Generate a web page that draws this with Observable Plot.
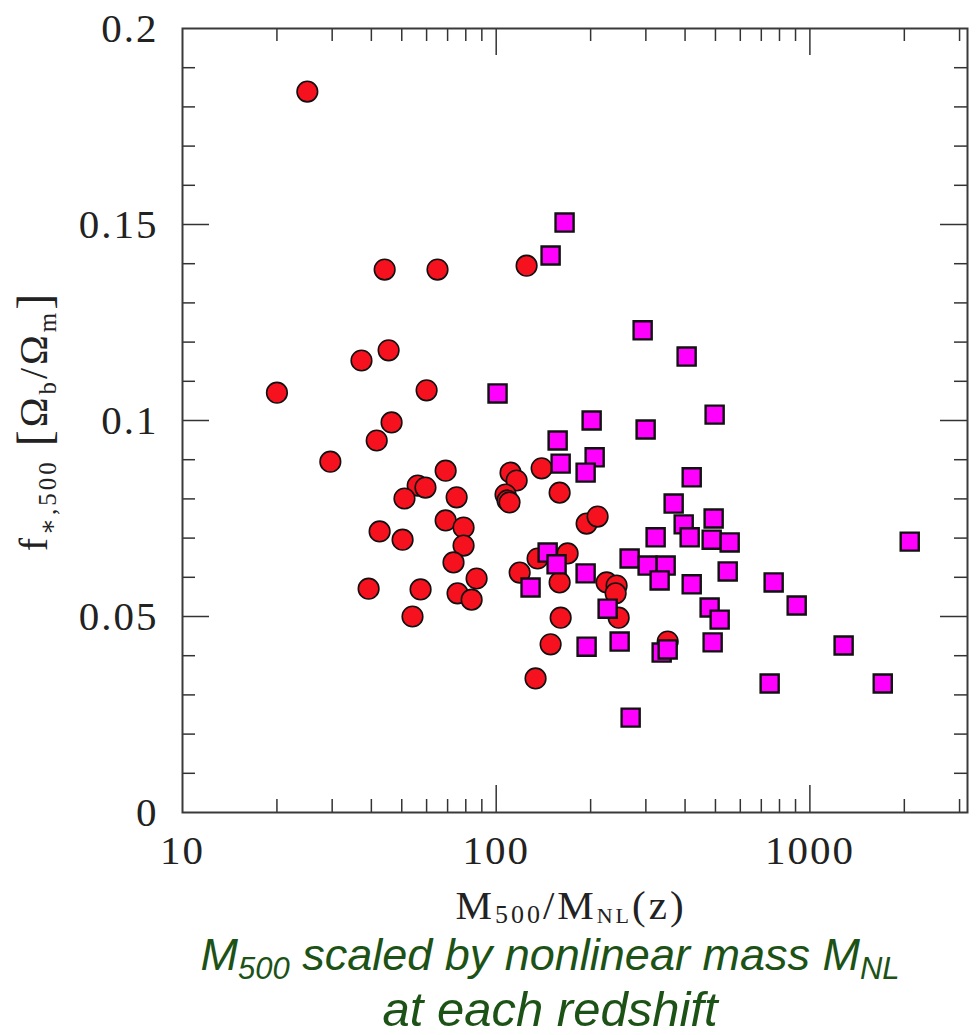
<!DOCTYPE html>
<html>
<head>
<meta charset="utf-8">
<script src="https://cdn.jsdelivr.net/npm/d3@7"></script>
<script src="https://cdn.jsdelivr.net/npm/@observablehq/plot@0.6"></script>
<style>
  body { margin: 0; background: #fff; }
  #wrap { width: 980px; }
  g[aria-label="x-axis tick label"], g[aria-label="y-axis tick label"] { letter-spacing: 2px; }
  #caption {
    font-family: "Liberation Sans", Arial, sans-serif;
    font-style: italic;
    color: #1d5216;
    text-align: center;
    padding-left: 120px;
    width: 860px;
    margin-top: -15px;
  }
  #caption .l1 { font-size: 45px; line-height: 40px; }
  #caption .l2 { font-size: 49px; line-height: 50px; padding-top: 4px; }
  #caption .sb { font-size: 31px; position: relative; top: 9px; }
</style>
</head>
<body>
<div id="wrap"></div>
<div id="caption">
  <div class="l1">M<span class="sb">500</span> scaled by nonlinear mass M<span class="sb">NL</span></div>
  <div class="l2">at each redshift</div>
</div>
<script>
// ---- data ----
const circleX = [25.0, 44.1, 65.0, 125.0, 37.2, 45.4, 20.0, 60.0, 46.4, 41.6,
  29.6, 69.0, 56.2, 59.5, 51.0, 74.8, 42.5, 50.3, 69.0, 78.7,
  78.7, 73.1, 86.6, 75.3, 83.5, 57.4, 39.2, 54.1, 111.1, 116.2,
  107.1, 108.7, 110.3, 139.6, 159.3, 194.2, 210.5, 135.5, 168.9, 118.8,
  159.3, 224.9, 242.0, 240.3, 245.7, 160.5, 149.1, 133.5, 352.1];
const circleY = [0.1839, 0.1385, 0.1385, 0.1395, 0.1153, 0.1179, 0.1071, 0.1077, 0.0995, 0.0949,
  0.0895, 0.0872, 0.0834, 0.0829, 0.0801, 0.0804, 0.0717, 0.0696, 0.0745, 0.0727,
  0.0681, 0.0638, 0.0597, 0.0559, 0.0543, 0.0569, 0.0571, 0.0500, 0.0867, 0.0847,
  0.0811, 0.0796, 0.0791, 0.0878, 0.0816, 0.0737, 0.0755, 0.0648, 0.0661, 0.0612,
  0.0587, 0.0587, 0.0579, 0.0559, 0.0497, 0.0497, 0.0429, 0.0342, 0.0436];

const squareX = [165.2, 149.1, 293.0, 404.7, 101.0, 201.5, 299.5, 497.0, 157.0, 160.5,
  206.0, 192.8, 420.0, 367.9, 396.0, 493.4, 322.3, 413.8, 486.3, 555.0,
  2081, 145.9, 155.8, 128.7, 192.8, 266.3, 303.9, 346.9, 331.9, 547.0,
  420.0, 766.5, 479.1, 515.7, 907.7, 226.6, 194.2, 247.5, 336.9, 352.1,
  489.8, 1281, 744.3, 1707, 268.3];
const squareY = [0.1505, 0.1421, 0.1230, 0.1163, 0.1069, 0.1000, 0.0977, 0.1015, 0.0949, 0.0890,
  0.0906, 0.0867, 0.0855, 0.0788, 0.0735, 0.0750, 0.0702, 0.0702, 0.0696, 0.0689,
  0.0691, 0.0663, 0.0633, 0.0574, 0.0610, 0.0648, 0.0630, 0.0630, 0.0592, 0.0615,
  0.0582, 0.0587, 0.0523, 0.0492, 0.0528, 0.0520, 0.0423, 0.0436, 0.0408, 0.0416,
  0.0434, 0.0426, 0.0329, 0.0329, 0.0242];

const xDomain = [10, 3180];
const yDomain = [0, 0.2];
const xTickLabels = [10, 100, 1000];
const xMajorTicks = [100, 1000];
const xMinorTicks = [20, 30, 40, 50, 60, 70, 80, 90, 200, 300, 400, 500, 600, 700, 800, 900, 2000, 3000];
const yTickValues = [0, 0.05, 0.1, 0.15, 0.2];
const yTickLabels = ["0", "0.05", "0.1", "0.15", "0.2"];
const yMajorTicks = [0.05, 0.1, 0.15];
const yMinorTicks = [0.01, 0.02, 0.03, 0.04, 0.06, 0.07, 0.08, 0.09, 0.11, 0.12, 0.13, 0.14, 0.16, 0.17, 0.18, 0.19];

// ---- layout ----
const W = 980, H = 950;
const mL = 182, mR = 13, mT = 28, mB = 138;
const innerW = W - mL - mR, innerH = H - mT - mB;
const minorLen = 13, majorLen = 27;
const tickColor = "#333", frameColor = "#3a3a3a";
const serif = "'Liberation Serif', 'DejaVu Serif', serif";

const circles = circleX.map((x, i) => ({x, y: circleY[i]}));
const squares = squareX.map((x, i) => ({x, y: squareY[i]}));

const chart = Plot.plot({
  width: W, height: H,
  marginLeft: mL, marginRight: mR, marginTop: mT, marginBottom: mB,
  x: {type: "log", domain: xDomain},
  y: {domain: yDomain},
  style: {fontFamily: serif, background: "#fff", color: "#222"},
  marks: [
    // bottom ticks
    Plot.ruleX(xMinorTicks, {x: d => d, insetTop: innerH - minorLen, stroke: tickColor, strokeWidth: 1.5}),
    Plot.ruleX(xMajorTicks, {x: d => d, insetTop: innerH - majorLen, stroke: tickColor, strokeWidth: 1.5}),
    // top ticks
    Plot.ruleX(xMinorTicks, {x: d => d, insetBottom: innerH - minorLen, stroke: tickColor, strokeWidth: 1.5}),
    Plot.ruleX(xMajorTicks, {x: d => d, insetBottom: innerH - majorLen, stroke: tickColor, strokeWidth: 1.5}),
    // left ticks
    Plot.ruleY(yMinorTicks, {y: d => d, insetRight: innerW - minorLen, stroke: tickColor, strokeWidth: 1.5}),
    Plot.ruleY(yMajorTicks, {y: d => d, insetRight: innerW - majorLen, stroke: tickColor, strokeWidth: 1.5}),
    // right ticks
    Plot.ruleY(yMinorTicks, {y: d => d, insetLeft: innerW - minorLen, stroke: tickColor, strokeWidth: 1.5}),
    Plot.ruleY(yMajorTicks, {y: d => d, insetLeft: innerW - majorLen, stroke: tickColor, strokeWidth: 1.5}),
    Plot.frame({stroke: frameColor, strokeWidth: 2}),
    Plot.axisX({ticks: xTickLabels, tickSize: 0, tickPadding: 22, tickFormat: d => String(d), fontSize: 41, label: null, fill: "#222"}),
    Plot.axisY({ticks: yTickValues, tickSize: 0, tickPadding: 24, tickFormat: d => yTickLabels[yTickValues.indexOf(d)], fontSize: 41, label: null, fill: "#222"}),
    Plot.dot(circles, {x: "x", y: "y", r: 10.3, fill: "#f5121e", stroke: "#111", strokeWidth: 1.6}),
    Plot.dot(squares, {x: "x", y: "y", r: 10.2, symbol: "square", fill: "#ff00ff", stroke: "#111", strokeWidth: 2.4})
  ]
});

document.getElementById("wrap").appendChild(chart);

// ---- axis titles with subscripts ----
const svg = d3.select(chart);

const xt = svg.append("text")
  .attr("x", 571).attr("y", 919)
  .attr("text-anchor", "middle")
  .attr("fill", "#222")
  .style("font-family", serif)
  .style("font-size", "41px")
  .style("letter-spacing", "3px");
xt.append("tspan").text("M");
xt.append("tspan").attr("dy", 4).style("font-size", "26px").text("500");
xt.append("tspan").attr("dy", -4).text("/M");
xt.append("tspan").attr("dy", 4).style("font-size", "22px").text("NL");
xt.append("tspan").attr("dy", -4).text("(z)");

const yt = svg.append("text")
  .attr("transform", "translate(47,421) rotate(-90)")
  .attr("text-anchor", "middle")
  .attr("fill", "#222")
  .style("font-family", serif)
  .style("font-size", "40px")
  .style("letter-spacing", "3px");
yt.append("tspan").text("f");
yt.append("tspan").attr("dy", 9).style("font-size", "25px").text("\u2217,500");
yt.append("tspan").attr("dy", -9).text(" ");
yt.append("tspan").attr("dy", 3).style("font-size", "48px").text("[");
yt.append("tspan").attr("dy", -3).text("\u03A9");
yt.append("tspan").attr("dy", 9).style("font-size", "25px").text("b");
yt.append("tspan").attr("dy", -9).text("/\u03A9");
yt.append("tspan").attr("dy", 9).style("font-size", "25px").text("m");
yt.append("tspan").attr("dy", -6).style("font-size", "48px").text("]");
</script>
</body>
</html>
